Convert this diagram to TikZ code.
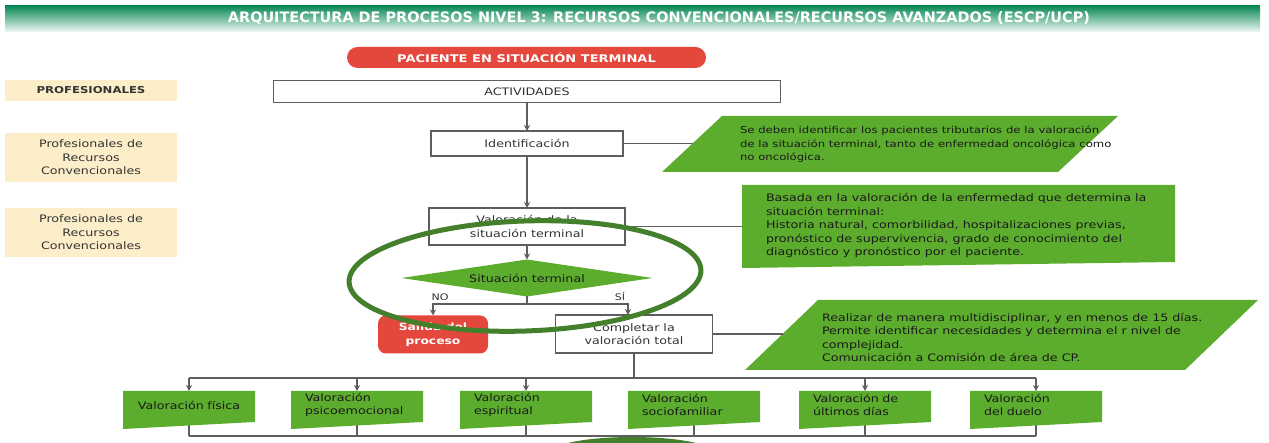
\documentclass[tikz,border=0pt]{standalone}
\usepackage{fontspec}
\setmainfont{DejaVu Sans}[FakeStretch=1.23]
\newfontfamily\headfont{DejaVu Sans}
\usetikzlibrary{shapes.geometric,arrows.meta,backgrounds}

\definecolor{hdr}{HTML}{0B8A57}
\definecolor{leaf}{HTML}{5CAD2E}
\definecolor{alert}{HTML}{E4473B}
\definecolor{sand}{HTML}{FCEEC8}
\definecolor{ring}{HTML}{447F2C}
\definecolor{edge}{HTML}{5E5E5E}
\definecolor{ink}{HTML}{333333}
\definecolor{dark}{HTML}{1A1A1A}

\begin{document}
\begin{tikzpicture}[x=1pt,y=-1pt,
  every node/.style={inner sep=0pt, outer sep=0pt, text=ink,
    font=\fontsize{10.3}{13.5}\selectfont},
  proc/.style={draw=edge, line width=1.3pt, fill=white, align=center},
  role/.style={fill=sand, align=center, minimum width=172pt},
  note/.style={align=left, anchor=west, text=dark},
  vbox/.style={minimum width=132pt, minimum height=28pt, text width=104pt,
    align=left, text=dark},
  link/.style={draw=edge, line width=1.2pt},
  flow/.style={link, -{Stealth[length=6pt,width=6pt]}},
  loop/.style={draw=ring, line width=5pt}]

\useasboundingbox (0,0) rectangle (1269,443);

% title band
\shade[top color=hdr, bottom color=hdr!6] (5,6) rectangle (1260,32);
\node[text=white, font=\headfont\bfseries\fontsize{10}{12}\selectfont] (title) at (659,18.5)
  {\resizebox{862pt}{!}{ARQUITECTURA DE PROCESOS NIVEL 3: RECURSOS CONVENCIONALES/RECURSOS AVANZADOS (ESCP/UCP)}};

% start
\node[fill=alert, rounded corners=10.5pt, minimum width=359pt, minimum height=21pt,
  text=white, font=\fontsize{10.6}{12}\selectfont\bfseries] (start) at (526.5,57.5)
  {PACIENTE EN SITUACIÓN TERMINAL};

% roles column
\node[role, minimum height=21pt, font=\fontsize{9.5}{12}\selectfont\bfseries] (r0) at (91,90.5) {PROFESIONALES};
\node[role, minimum height=49pt] (r1) at (91,157.5) {Profesionales de\\Recursos\\Convencionales};
\node[role, minimum height=49pt] (r2) at (91,232.5) {Profesionales de\\Recursos\\Convencionales};

% activity column
\node[proc, minimum width=507pt, minimum height=22pt] (act) at (527,91.5) {ACTIVIDADES};
\node[proc, minimum width=192pt, minimum height=25pt] (ident) at (527,143.5) {Identificación};
\node[proc, minimum width=196pt, minimum height=37pt] (val) at (527,226.5) {Valoración de la\\situación terminal};
\node[diamond, aspect=6.8, fill=leaf, minimum width=251pt, minimum height=37pt, text=dark] (dec) at (527,278) {Situación terminal};

\draw[flow] (act) -- (ident);
\draw[flow] (ident) -- (val);
\draw[flow] (val) -- (dec);

% decision branches
\coordinate (fork) at (527,304);
\node[fill=alert, rounded corners=8pt, minimum width=110pt, minimum height=38pt,
  text=white, align=center, font=\fontsize{10}{13.5}\selectfont\bfseries] (exit) at (433,334.5) {Salida del\\proceso};
\node[proc, minimum width=157pt, minimum height=38pt] (comp) at (634,334) {Completar la\\valoración total};
\draw[link] (dec.south) -- (fork);
\draw[flow] (fork) -| (exit.north);
\draw[flow] (fork) -| ([xshift=-6pt]comp.north);
\node[font=\fontsize{9}{10}\selectfont] (no) at (440,297.5) {NO};
\node[font=\fontsize{9}{10}\selectfont] (si) at (620,296.5) {SÍ};

% side notes
\fill[leaf] (722,116) -- (1118,116) -- (1058,172) -- (662,172) -- cycle;
\coordinate (n1in) at (692.5,143.5);
\draw[link] (ident.east) -- (n1in);
\node[note, font=\fontsize{9.5}{13.5}\selectfont] (n1) at (740,144.5) {Se deben identificar los pacientes tributarios de la valoración\\de la situación terminal, tanto de enfermedad oncológica como\\no oncológica.};

\fill[leaf] (742,185) -- (1175,185) -- (1175,262) -- (742,268) -- cycle;
\coordinate (n2in) at (742,226.5);
\draw[link] (val.east) -- (n2in);
\node[note] (n2) at (766,225.5) {Basada en la valoración de la enfermedad que determina la\\situación terminal:\\Historia natural, comorbilidad, hospitalizaciones previas,\\pronóstico de supervivencia, grado de conocimiento del\\diagnóstico y pronóstico por el paciente.};

\fill[leaf] (818,300) -- (1258,300) -- (1185,370) -- (745,370) -- cycle;
\coordinate (n3in) at (782.5,334);
\draw[link] (comp.east) -- (n3in);
\node[note] (n3) at (822,337.5) {Realizar de manera multidisciplinar, y en menos de 15 días.\\Permite identificar necesidades y determina el r nivel de\\complejidad.\\Comunicación a Comisión de área de CP.};

% assessments row
\node[vbox, align=center] (v1) at (189,405) {Valoración física};
\node[vbox] (v2) at (357,405) {Valoración\\psicoemocional};
\node[vbox] (v3) at (526,405) {Valoración\\espiritual};
\node[vbox] (v4) at (694,405) {Valoración\\sociofamiliar};
\node[vbox] (v5) at (865,405) {Valoración de\\últimos días};
\node[vbox] (v6) at (1036,405) {Valoración\\del duelo};

\coordinate (busL) at (189,378);
\coordinate (busR) at (1036,378);
\coordinate (lowL) at (189,436);
\coordinate (lowR) at (1036,436);

\begin{scope}[on background layer]
  \fill[white] (0,0) rectangle (1269,443);
  \foreach \k in {1,...,6}
    \draw[link] (v\k.center) -- (v\k.center |- lowL);
  \foreach \k in {1,...,6}
    \fill[leaf] (v\k.north west) -- (v\k.north east) -- ([yshift=-3pt]v\k.south east)
      -- ([yshift=-10pt]v\k.south west) -- cycle;
\end{scope}

\draw[link] (comp.south) -- (comp.south |- busL);
\draw[link] (busL) -- (busR);
\foreach \k in {1,2,3,5,6}
  \draw[flow] (v\k.north |- busL) -- (v\k.north);
\draw[link] (lowL) -- (lowR);
\coordinate (drop) at (632,436);
\coordinate (tail) at (632,443);
\draw[link] (drop) -- (tail);

% highlight marks
\draw[loop, rotate around={2:(525,276)}] (525,276) ellipse [x radius=176pt, y radius=55pt];
\begin{scope}
  \clip (0,0) rectangle (1269,443);
  \fill[ring] (632,453) ellipse [x radius=82pt, y radius=16pt];
\end{scope}
\end{tikzpicture}
\end{document}
